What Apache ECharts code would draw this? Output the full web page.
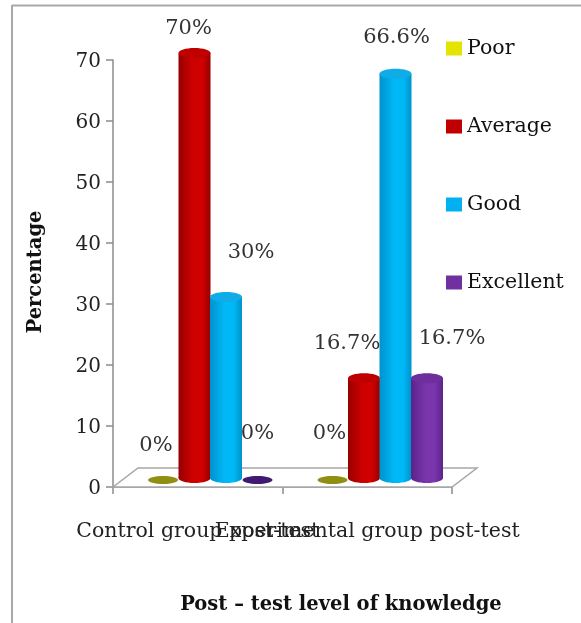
<!DOCTYPE html>
<html><head><meta charset="utf-8">
<script src="https://cdn.jsdelivr.net/npm/echarts@6/dist/echarts.min.js"></script>
<style>html,body{margin:0;padding:0;background:#fff}#c{width:581px;height:623px}</style>
</head><body><div id="c"></div>
<script>
const categories = ['Control group post-test', 'Experimental group post-test'];
const seriesNames = ['Poor', 'Average', 'Good', 'Excellent'];
const poor = [0, 0];
const average = [70, 16.7];
const good = [30, 66.6];
const excellent = [0, 16.7];
const yTicks = [0, 10, 20, 30, 40, 50, 60, 70];
const yAxisTitle = 'Percentage';
const xAxisTitle = 'Post \u2013 test level of knowledge';

const FONT = '"DejaVu Serif"';
const palette = [
  {flat:'#8f8f12', legend:'#e4e400', edge:'#8f8f12', mid:'#b5b515', top:'#c0c020'},
  {flat:'#800000', legend:'#c00000', edge:'#960000', mid:'#cf0000', top:'#c00000'},
  {flat:'#007aa8', legend:'#00b0f0', edge:'#0092cc', mid:'#00b8f5', top:'#10ace8'},
  {flat:'#3f1a70', legend:'#7030a0', edge:'#5a2488', mid:'#7a34ac', top:'#6e2e9c'}
];
const depthX = 12.5, depthY = 7, baseLift = 9, pitch = 31.5, barW = 32, capR = 5;
// hand-placed label nudges as in the source chart [dx, dy] from the cap centre
const nudges = [
  [[-7,-34],[-3,-46]],
  [[-6,-24],[-17,-35]],
  [[25,-44],[1,-36]],
  [[0,-46],[25,-40]]
];
function cyl(si){
  return function(params, api){
    const cat = api.value(0), val = api.value(1);
    const p = api.coord([cat, val]), b = api.coord([cat, 0]);
    const cx = p[0] + depthX + (si - 1.5) * pitch;
    const topY = p[1] - depthY, botY = b[1] - baseLift;
    const pal = palette[si];
    const grad = {type:'linear',x:0,y:0,x2:1,y2:0,colorStops:[
      {offset:0,color:pal.edge},{offset:.45,color:pal.mid},{offset:.75,color:pal.mid},{offset:1,color:pal.edge}]};
    const kids = [];
    if (val > 0) {
      kids.push({type:'ellipse',shape:{cx:cx,cy:botY,rx:barW/2,ry:capR},style:{fill:grad}});
      kids.push({type:'rect',shape:{x:cx-barW/2,y:topY,width:barW,height:botY-topY},style:{fill:grad}});
      kids.push({type:'ellipse',shape:{cx:cx,cy:topY,rx:barW/2,ry:capR},style:{fill:pal.top}});
    } else {
      kids.push({type:'ellipse',shape:{cx:cx,cy:b[1]-depthY,rx:barW/2-1,ry:4},style:{fill:pal.flat}});
    }
    const n = nudges[si][params.dataIndex];
    kids.push({type:'text',z2:50,x:cx+n[0],y:(val>0?topY:b[1]-depthY)+n[1],style:{
      text:val+'%',font:'21px '+FONT,fill:'#333',align:'center',verticalAlign:'middle'}});
    return {type:'group',children:kids};
  };
}
function floor(params, api){
  const g = params.coordSys;
  const l=g.x, r=g.x+g.width, y0=g.y+g.height, dx=25, dy=19;
  return {type:'polygon',shape:{points:[[l,y0],[l+dx,y0-dy],[r+dx,y0-dy],[r,y0]]},
    style:{fill:'#fff',stroke:'#a6a6a6',lineWidth:1.5}};
}
const valueSets = [poor, average, good, excellent];
const series = [{type:'custom',name:'floor',silent:true,z:1,data:[[0,0]],encode:{x:0,y:1},renderItem:floor}];
valueSets.forEach((vals,si)=>{
  series.push({type:'custom',name:seriesNames[si],z:2+si,clip:false,
    itemStyle:{color:palette[si].legend},
    data:vals.map((v,i)=>[i,v]),encode:{x:0,y:1},renderItem:cyl(si)});
});
const chart = echarts.init(document.getElementById('c'),null,{renderer:'canvas'});
chart.setOption({
  animation:false,
  backgroundColor:'#fff',
  graphic:[
    {type:'line',shape:{x1:12,y1:5.5,x2:581,y2:5.5},style:{stroke:'#a8a8a8',lineWidth:2}},
    {type:'line',shape:{x1:12,y1:5,x2:12,y2:623},style:{stroke:'#a8a8a8',lineWidth:2}},
    {type:'text',x:36,y:272,rotation:Math.PI/2,style:{text:yAxisTitle,font:'bold 19.5px '+FONT,fill:'#111',align:'center',verticalAlign:'middle'}},
    {type:'text',x:341,y:605,style:{text:xAxisTitle,font:'bold 19.5px '+FONT,fill:'#111',align:'center',verticalAlign:'middle'}}
  ],
  legend:{orient:'vertical',left:441,top:33,itemWidth:16,itemHeight:14,itemGap:57,
    data:seriesNames,icon:'rect',
    textStyle:{fontFamily:FONT,fontSize:20.5,color:'#111'}},
  grid:{left:113,top:60,width:339,height:427},
  xAxis:{type:'category',data:categories,
    axisLine:{lineStyle:{color:'#8c8c8c',width:1.5}},
    axisTick:{show:true,length:7,alignWithLabel:false,lineStyle:{color:'#8c8c8c',width:1.5}},
    axisLabel:{interval:0,hideOverlap:false,margin:34,fontFamily:FONT,fontSize:20.5,color:'#222'},
    splitLine:{show:false}},
  yAxis:{type:'value',min:0,max:70,interval:10,
    axisLine:{show:true,lineStyle:{color:'#8c8c8c',width:1.5}},
    axisTick:{show:true,length:7,lineStyle:{color:'#8c8c8c',width:1.5}},
    axisLabel:{margin:12,color:'#222',
      formatter:v=>yTicks.includes(v)?'{t|'+v+'}':'',
      rich:{t:{fontFamily:FONT,fontSize:20,color:'#222',padding:[4,0,0,0]}}},
    splitLine:{show:false}},
  series:series
});
</script></body></html>
